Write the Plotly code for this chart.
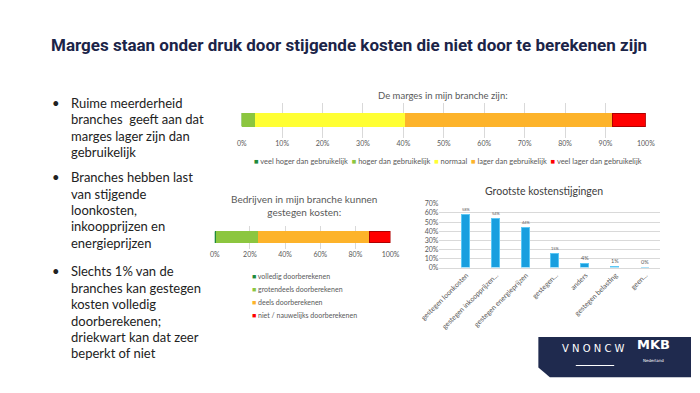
import plotly.graph_objects as go

W, H = 700, 393

def px(x):
    return x / W

def py(y):
    return 1 - y / H

# ---------------- data ----------------
marge_labels = ["veel hoger dan gebruikelijk", "hoger dan gebruikelijk", "normaal",
                "lager dan gebruikelijk", "veel lager dan gebruikelijk"]
marge_values = [0.0, 3.5, 37.0, 51.3, 8.2]

door_labels = ["volledig doorberekenen", "grotendeels doorberekenen",
               "deels doorberekenen", "niet / nauwelijks doorberekenen"]
door_values = [1.0, 24.0, 63.0, 12.0]

kosten_cats = ["gestegen loonkosten", "gestegen inkoopprijzen...", "gestegen energieprijzen",
               "gestegen...", "anders", "gestegen belasting", "geen..."]
kosten_values = [58, 54, 44, 15, 4, 1, 0]

marge_colors = ["#1f8a3b", "#8cc63f", "#ffff33", "#fdb32a", "#ff0000"]
door_colors = ["#1f8a3b", "#8cc63f", "#fdb32a", "#ff0000"]
bar_blue = "#199fdf"

bullets = [
    ["Ruime meerderheid", "branches  geeft aan dat", "marges lager zijn dan", "gebruikelijk"],
    ["Branches hebben last", "van stijgende", "loonkosten,", "inkoopprijzen en", "energieprijzen"],
    ["Slechts 1% van de", "branches kan gestegen", "kosten volledig", "doorberekenen;",
     "driekwart kan dat zeer", "beperkt of niet"],
]

fig = go.Figure()

# ---- top chart: marges ----
for name, val, col in zip(marge_labels, marge_values, marge_colors):
    fig.add_trace(go.Bar(
        x=[val / 100], y=["m"], orientation="h", name=name, width=0.37,
        marker=dict(color=col, line=dict(color="#b00000" if col == "#ff0000" else col, width=1)),
        xaxis="x", yaxis="y", showlegend=False, hoverinfo="skip"))

# ---- bottom-left chart: doorberekenen ----
for name, val, col in zip(door_labels, door_values, door_colors):
    fig.add_trace(go.Bar(
        x=[val / 100], y=["d"], orientation="h", name=name, width=0.5,
        marker=dict(color=col, line=dict(color="#b00000" if col == "#ff0000" else col, width=1)),
        xaxis="x2", yaxis="y2", showlegend=False, hoverinfo="skip"))

# ---- right chart: kostenstijgingen ----
fig.add_trace(go.Bar(
    x=kosten_cats, y=[v / 100 for v in kosten_values], width=0.27,
    marker=dict(color=bar_blue, line=dict(color="#5cc8f5", width=1)),
    text=[f"{v}%" for v in kosten_values], textposition="outside",
    textfont=dict(size=7, color="#595959", family="Lato"), cliponaxis=False,
    xaxis="x3", yaxis="y3", showlegend=False, hoverinfo="skip"))

grid = "#d9d9d9"
tickf = dict(size=7, color="#595959", family="Lato")

fig.update_layout(
    width=W, height=H, margin=dict(l=0, r=0, t=0, b=0),
    paper_bgcolor="white", plot_bgcolor="rgba(0,0,0,0)",
    barmode="stack", bargap=0,
    font=dict(family="Lato", color="#595959"),
    xaxis=dict(domain=[px(232), px(653)], range=[0, 1], dtick=0.1, tickformat=".0%",
               showgrid=True, gridcolor=grid, zeroline=False, tickfont=tickf,
               ticks="", fixedrange=True),
    yaxis=dict(domain=[py(136), py(100)], range=[-0.5, 0.5], showticklabels=False,
               showgrid=False, zeroline=False),
    xaxis2=dict(domain=[px(204), px(387)], range=[0, 1], dtick=0.2, tickformat=".0%",
                showgrid=True, gridcolor=grid, zeroline=False, tickfont=tickf,
                ticks="", anchor="y2"),
    yaxis2=dict(domain=[py(249), py(226)], range=[-0.5, 0.5], showticklabels=False,
                showgrid=False, zeroline=False, anchor="x2"),
    xaxis3=dict(domain=[px(438), px(668)], range=[-0.9, 6.5], tickangle=-45,
                tickfont=tickf, showgrid=False, zeroline=False, anchor="y3",
                showline=True, linecolor=grid, ticks=""),
    yaxis3=dict(domain=[py(268), py(203)], range=[0, 0.7], dtick=0.1, tickformat=".0%",
                showgrid=True, gridcolor=grid, zeroline=False, tickfont=tickf,
                anchor="x3", ticks=""),
)

ann = []
# main title
ann.append(dict(x=px(31), y=py(41), xref="paper", yref="paper", xanchor="left", yanchor="middle",
                text="<b>Marges staan onder druk door stijgende kosten die niet door te berekenen zijn</b>",
                showarrow=False, font=dict(family="Roboto", size=17, color="#1b2448")))

# bullets
starts = [100, 176, 272]
for block, y0 in zip(bullets, starts):
    ann.append(dict(x=px(39), y=py(y0), xref="paper", yref="paper", xanchor="center",
                    yanchor="middle", text="•", showarrow=False,
                    font=dict(family="Lato", size=13, color="#222222")))
    for i, line in enumerate(block):
        ann.append(dict(x=px(52), y=py(y0 + i * 16.7), xref="paper", yref="paper",
                        xanchor="left", yanchor="middle", text=line, showarrow=False,
                        font=dict(family="Lato", size=13, color="#222222")))

# chart titles
ann.append(dict(x=px(442), y=py(85), xref="paper", yref="paper", xanchor="center",
                text="De marges in mijn branche zijn:",
                showarrow=False, font=dict(family="Lato", size=9.5, color="#595959")))
ann.append(dict(x=px(297), y=py(205), xref="paper", yref="paper", xanchor="center",
                text="Bedrijven in mijn branche kunnen<br>gestegen kosten:",
                showarrow=False, font=dict(family="Lato", size=10, color="#595959")))
ann.append(dict(x=px(547), y=py(190), xref="paper", yref="paper", xanchor="center",
                text="Grootste kostenstijgingen",
                showarrow=False, font=dict(family="Lato", size=10.5, color="#404040")))

# top legend (horizontal)
leg_txt = "  ".join(f"<span style='color:{c}'>■</span> {n}" for n, c in zip(marge_labels, marge_colors))
ann.append(dict(x=px(447), y=py(160), xref="paper", yref="paper", xanchor="center", text=leg_txt,
                showarrow=False, font=dict(family="Lato", size=7.5, color="#595959")))

# bottom-left legend (vertical)
for i, (n, c) in enumerate(zip(door_labels, door_colors)):
    ann.append(dict(x=px(241), y=py(277 + i * 13), xref="paper", yref="paper", xanchor="left",
                    yanchor="middle", text=f"<span style='color:{c}'>■</span> {n}", showarrow=False,
                    font=dict(family="Lato", size=7, color="#595959")))

# logo block
pts = [(541, 339), (700, 339), (700, 380), (553, 380), (541, 370)]
path = "M " + " L ".join(f"{px(a):.5f},{py(b):.5f}" for a, b in pts) + " Z"
shapes = [dict(type="path", xref="paper", yref="paper", path=path,
               fillcolor="#1f2a4e", line=dict(width=0)),
          dict(type="line", xref="paper", yref="paper", x0=px(580), x1=px(620), y0=py(368), y1=py(368),
               line=dict(color="white", width=1))]
ann.append(dict(x=px(598), y=py(358), xref="paper", yref="paper", xanchor="center",
                text="V N O N C W", showarrow=False,
                font=dict(family="DejaVu Sans", size=10, color="white")))
ann.append(dict(x=px(661), y=py(356), xref="paper", yref="paper", xanchor="center",
                text="<b>MKB</b>", showarrow=False,
                font=dict(family="DejaVu Sans", size=13, color="white")))
ann.append(dict(x=px(661), y=py(367), xref="paper", yref="paper", xanchor="center",
                text="Nederland", showarrow=False,
                font=dict(family="DejaVu Sans", size=4, color="white")))

fig.update_layout(annotations=ann, shapes=shapes)
fig.write_html("out.html", config={"displayModeBar": False},
               post_script="document.body.style.margin='0px';")
